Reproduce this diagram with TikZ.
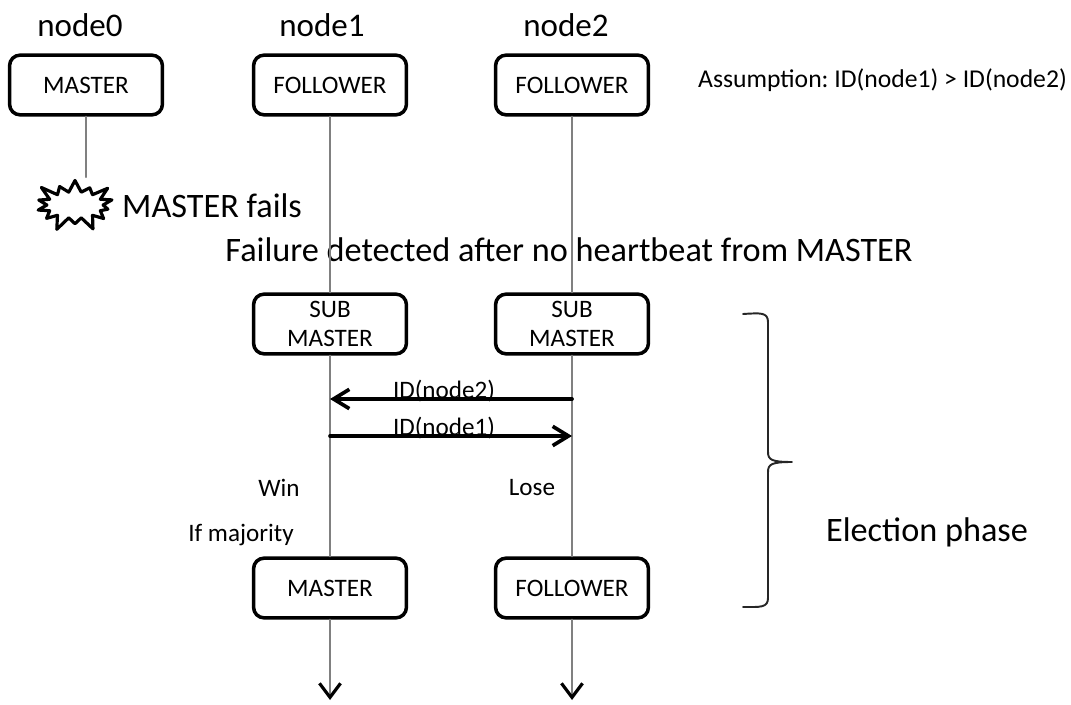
\documentclass[tikz,border=0pt]{standalone}
\usepackage{fontspec}
\setmainfont{Carlito}
\usetikzlibrary{arrows.meta,shapes.symbols}
\tikzset{
  state/.style={draw, line width=2pt, rounded corners=6pt, minimum width=87pt, minimum height=34pt, align=center, font=\fontsize{14.3}{17}\selectfont},
  life/.style={line width=1.1pt, gray},
  msg/.style={line width=2.1pt, -{Straight Barb[length=9pt,width=11pt]}},
  small/.style={font=\fontsize{14.3}{17}\selectfont},
  head/.style={font=\fontsize{18.8}{22}\selectfont},
  big/.style={font=\fontsize{19.5}{23}\selectfont}
}
\begin{document}
\frenchspacing
\begin{tikzpicture}[x=0.02cm, y=-0.02cm, line join=round, line cap=round]
    \useasboundingbox (0,0) rectangle (1071,705);
    \foreach \n/\x in {0/80,1/322,2/566}
    \node[head] (h\n) at (\x,25) {node\n};
    \node[state] (m0) at (86,85) {MASTER};
    \node[state] (f1) at (330,85) {FOLLOWER};
    \node[state] (f2) at (572,85) {FOLLOWER};
    \node[small, anchor=west, font=\fontsize{14.6}{17}\selectfont] (asm) at (692,80) {Assumption: ID(node1) > ID(node2)};
    \node[starburst, draw, line width=1.8pt, minimum width=50pt, minimum height=33pt, starburst points=14, starburst point height=9pt] (burst) at (75,205) {};
    \node[big, anchor=west] (fail) at (116,206) {MASTER fails};
    \node[big] (det) at (569,250) {Failure detected after no heartbeat from MASTER};
    \node[state] (s1) at (330,324) {SUB\\MASTER};
    \node[state] (s2) at (572,324) {SUB\\MASTER};
    \node[state] (n1) at (330,588) {MASTER};
    \node[state] (n2) at (572,588) {FOLLOWER};
    \path
    (330,700) coordinate (e1)
    (572,700) coordinate (e2)
    (572,399) coordinate (q2)
    (330,436) coordinate (q1);
    % life lines
    \draw[life] (m0.south) -- (m0.south |- burst.north);
    \foreach \p in {1,2}{
    \draw[life] (f\p) -- (s\p) -- (n\p);
    \draw[life, -{Straight Barb[color=black, length=8pt, width=12pt, line width=1.8pt]}] (n\p) -- (e\p);
    }
    % messages
    \draw[msg] (q2) -- node[small, above, inner sep=0pt, xshift=-4pt, yshift=-2.5pt] (l2) {ID(node2)} (s1 |- q2);
    \draw[msg] (q1) -- node[small, above, inner sep=0pt, xshift=-4pt, yshift=-2.5pt] (l1) {ID(node1)} (s2 |- q1);
    \node[small] (win) at (279,488) {Win};
    \node[small] (lose) at (532,488) {Lose};
    \node[small] (maj) at (241,535) {If majority};
    % brace
    \draw[line width=1.1pt, black!85] (743,314) .. controls (760,313) and (768,312) .. (768,322) -- (768,452)
    .. controls (768,460) and (772,462) .. (792,462) .. controls (772,462) and (768,464) .. (768,472) -- (768,598)
    .. controls (768,608) and (760,607) .. (743,607);
    \node[big] (phase) at (927,532) {Election phase};
\end{tikzpicture}
\end{document}
